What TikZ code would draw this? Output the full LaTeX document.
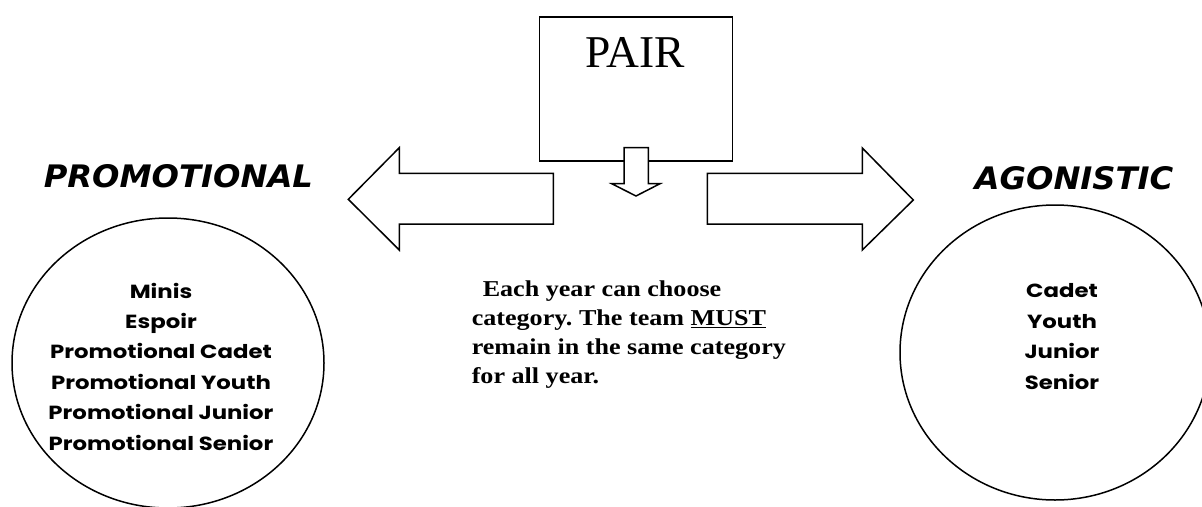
\documentclass[tikz,border=0pt]{standalone}
\usepackage{fontspec}
\setmainfont{Liberation Serif}
\newfontfamily\headfont[FakeStretch=1.04]{DejaVu Sans}
\newfontfamily\catfont[FakeStretch=1.2]{Poppins}
\newfontfamily\notefont[FakeStretch=1.15]{Liberation Serif}
\frenchspacing
\begin{document}
\begin{tikzpicture}[x=1pt, y=-1pt, line width=1.5pt,
  blockarrow/.style={draw, fill=white, line join=miter},
  headline/.style={font=\headfont\bfseries\itshape\fontsize{31}{31}\selectfont, inner sep=0pt, anchor=base},
  catlist/.style={font=\catfont\bfseries\fontsize{19}{30.4}\selectfont, align=center, inner sep=0pt, anchor=base}]
  \useasboundingbox (0,0) rectangle (1202,506);

  % Pair box
  \node[draw, minimum width=193pt, minimum height=144pt, inner sep=0pt] (pair) at (635.8,88.9) {};
  \node[font=\fontsize{45.5}{45.5}\selectfont, inner sep=0pt, anchor=base] (pairlabel) at (635,67.3) {PAIR};

  % Small arrow out of the box
  \draw[blockarrow] (624,147.7) -- (648.3,147.7) -- (648.3,183.7) -- (660,183.7)
    -- (636,196) -- (611.7,183.7) -- (624,183.7) -- cycle;

  % Block arrows to both sides
  \draw[blockarrow] (553.3,173.3) -- (399.3,173.3) -- (399.3,147.7) -- (348.3,199.3)
    -- (399.3,250) -- (399.3,224) -- (553.3,224) -- cycle;
  \draw[blockarrow] (707.3,173.3) -- (862.3,173.3) -- (862.3,148) -- (913.3,200)
    -- (862.3,250) -- (862.3,224) -- (707.3,224) -- cycle;

  % Headings
  \node[headline] (promo) at (178.4,187.3) {PROMOTIONAL};
  \node[headline] (agon) at (1074,189.3) {AGONISTIC};

  % Circles
  \draw (168,363) ellipse [x radius=156, y radius=145];
  \draw (1055,352.5) ellipse [x radius=155, y radius=147.5];

  % Categories (base = last line)
  \node[catlist] (promolist) at (161,450) {Minis\\Espoir\\Promotional Cadet\\Promotional Youth\\Promotional Junior\\Promotional Senior};
  \node[catlist] (agonlist) at (1062,389) {Cadet\\Youth\\Junior\\Senior};

  % Note in the middle
  \node[font=\notefont\bfseries\fontsize{22.7}{28.9}\selectfont, align=left, inner sep=0pt, anchor=base west] (note) at (471,383.3)
    {\hspace*{11pt}Each year can choose\\category. The team \underline{MUST}\\remain in the same category\\for all year.};
\end{tikzpicture}
\end{document}
